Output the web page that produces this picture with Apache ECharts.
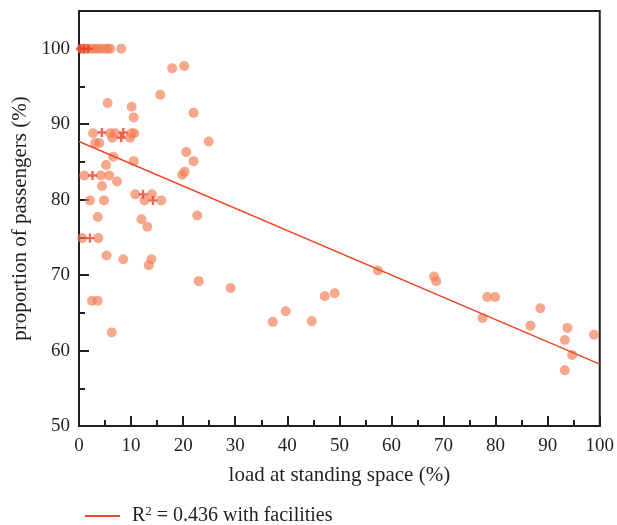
<!DOCTYPE html>
<html><head><meta charset="utf-8">
<script src="https://cdn.jsdelivr.net/npm/echarts@6/dist/echarts.min.js"></script>
<style>html,body{margin:0;padding:0;background:#fff}#c{width:617px;height:525px}</style>
</head><body><div id="c"></div>
<script>
// With-facilities observations (circles)
var circleX = [0.5,1.0,1.5,2.5,3.0,3.6,4.2,5.0,5.5,6.0,8.1,
  17.9,20.2,15.6,5.5,10.1,10.5,22.0,
  2.7,6.0,6.9,10.1,10.6,6.4,9.8,3.1,3.9,24.9,20.6,22.0,6.6,10.5,5.2,19.8,20.3,
  1.0,4.2,5.8,4.4,7.3,10.8,14.0,12.6,15.8,2.1,4.8,3.6,12.0,13.1,22.7,0.6,3.7,
  5.3,8.5,13.9,13.4,23.0,2.5,3.6,6.3,
  29.1,37.2,39.7,44.7,47.2,49.1,
  57.4,68.2,68.6,78.4,79.9,77.5,88.6,86.7,93.8,93.3,94.7,93.3,98.9];
var circleY = [100,100,100,100,100,100,100,100,100,100,100,
  97.4,97.7,93.9,92.8,92.3,90.9,91.5,
  88.8,88.8,88.8,88.8,88.8,88.2,88.2,87.5,87.5,87.7,86.3,85.1,85.7,85.1,84.6,83.3,83.7,
  83.2,83.2,83.2,81.8,82.4,80.7,80.7,79.9,79.9,79.9,79.9,77.7,77.4,76.4,77.9,74.9,74.9,
  72.6,72.1,72.1,71.3,69.2,66.6,66.6,62.4,
  68.3,63.8,65.2,63.9,67.2,67.6,
  70.6,69.8,69.2,67.1,67.1,64.3,65.6,63.3,63.0,61.4,59.4,57.4,62.1];
// Plus-marker observations
var plusX = [0.3,1.0,1.8,4.4,8.5,8.1,2.6,12.3,14.2,2.1];
var plusY = [100,100,100,88.9,88.9,88.2,83.2,80.7,79.9,74.9];
// Regression line endpoints
var fitX = [0,100];
var fitY = [87.7,58.2];
var xTicks = [0,10,20,30,40,50,60,70,80,90,100];
var yTicks = [50,60,70,80,90,100];
var legendName = 'R2 = 0.436 with facilities';

function pairs(a,b){return a.map(function(v,i){return [v,b[i]];});}
var FONT = '"Liberation Serif","DejaVu Serif",serif';
var AX = '#231f20';
var chart = echarts.init(document.getElementById('c'));
chart.setOption({
  animation:false,
  textStyle:{fontFamily:FONT},
  grid:{left:79,right:15,top:11,bottom:99,show:true,borderColor:AX,borderWidth:2,backgroundColor:'transparent'},
  legend:{
    data:[legendName],left:80,top:500,icon:'rect',itemWidth:35,itemHeight:2,
    formatter:function(){return '{a|R}{s|2}{a| = 0.436 with facilities}';},
    textStyle:{fontFamily:FONT,color:'#231f20',padding:[0,0,0,7],
      rich:{a:{fontFamily:FONT,fontSize:20,color:'#231f20'},s:{fontFamily:FONT,fontSize:13,color:'#231f20',padding:[0,0,9,0]}}}
  },
  xAxis:{type:'value',min:0,max:100,interval:10,
    name:'load at standing space (%)',nameLocation:'middle',nameGap:39,
    nameTextStyle:{fontFamily:FONT,fontSize:21,color:AX},
    axisLine:{show:true,lineStyle:{color:AX,width:2}},
    axisTick:{show:true,inside:true,length:10,lineStyle:{color:AX,width:2}},
    minorTick:{show:true,splitNumber:2,length:6,lineStyle:{color:AX,width:2}},
    axisLabel:{fontFamily:FONT,fontSize:19,color:AX,margin:11,
      formatter:function(v){return xTicks.indexOf(v)>=0?String(v):'';}},
    splitLine:{show:false}
  },
  yAxis:[{type:'value',min:50,max:105,interval:5,position:'left',
    name:'proportion of passengers (%)',nameLocation:'middle',nameGap:43,nameRotate:90,
    nameTextStyle:{fontFamily:FONT,fontSize:21,color:AX},
    axisLine:{show:true,lineStyle:{color:AX,width:2}},
    axisTick:{show:true,inside:true,length:6,lineStyle:{color:AX,width:2}},
    axisLabel:{fontFamily:FONT,fontSize:19,color:AX,margin:9,
      formatter:function(v){return yTicks.indexOf(v)>=0?String(v):'';}},
    splitLine:{show:false}
  },{type:'value',min:50,max:105,interval:10,position:'left',offset:0,
    axisLine:{show:false},axisLabel:{show:false},splitLine:{show:false},
    axisTick:{show:true,inside:true,length:10,lineStyle:{color:AX,width:2}}
  }],
  series:[
    {type:'scatter',name:'circles',data:pairs(circleX,circleY),symbol:'circle',symbolSize:10,
      itemStyle:{color:'#f17f55',opacity:0.68},z:2},
    {type:'scatter',name:'plus',data:pairs(plusX,plusY),
      symbol:'path://M3.3,0H5.7V3.3H9V5.7H5.7V9H3.3V5.7H0V3.3H3.3Z',symbolSize:9,
      itemStyle:{color:'#e8402a'},z:3},
    {type:'line',name:legendName,data:pairs(fitX,fitY),symbol:'none',
      lineStyle:{color:'#ec4a2a',width:1.6},itemStyle:{color:'#ec4a2a'},z:4}
  ]
});
</script></body></html>
